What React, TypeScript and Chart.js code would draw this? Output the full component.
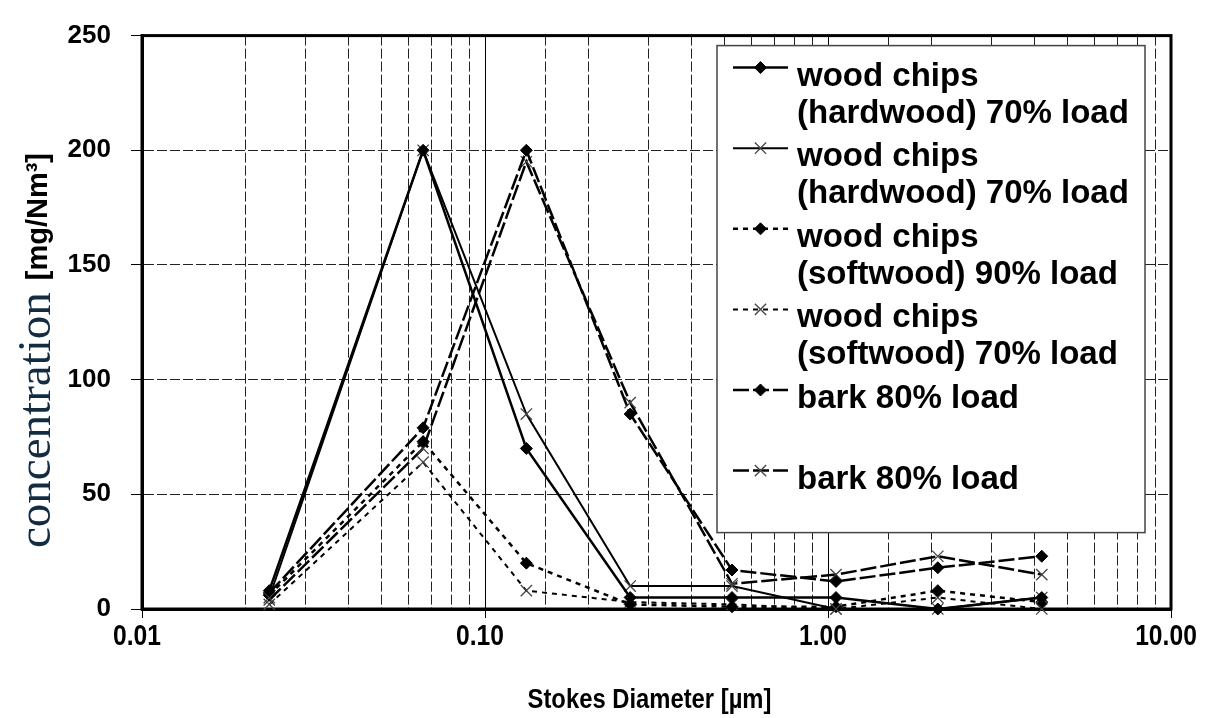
import React, { useEffect, useRef } from "react";
import { Chart, registerables } from "chart.js";
import { drawPoint } from "chart.js/helpers";

Chart.register(...registerables);

// Stokes diameters of the impactor stages (µm)
const diameters = [0.0235, 0.066, 0.132, 0.265, 0.525, 1.055, 2.09, 4.2];

// Mass concentration per stage (mg/Nm³)
const hardwood70A = [8, 200, 70, 5, 5, 5, 0, 5];
const hardwood70B = [5, 200, 85, 10, 10, 0, 0, 5];
const softwood90 = [6, 73, 20, 2, 1, 1, 8, 3];
const softwood70 = [2, 64, 8, 3, 2, 0, 5, 0];
const bark80A = [7, 79, 200, 85, 17, 12, 18, 23];
const bark80B = [4, 70, 195, 90, 11, 15, 23, 15];

const seriesNames = [
  ["wood chips", "(hardwood) 70% load"],
  ["wood chips", "(hardwood) 70% load"],
  ["wood chips", "(softwood) 90% load"],
  ["wood chips", "(softwood) 70% load"],
  ["bark 80% load"],
  ["bark 80% load"],
];

const xTickValues = [0.01, 0.1, 1, 10];
const xTickLabels = ["0.01", "0.10", "1.00", "10.00"];
const yTickValues = [0, 50, 100, 150, 200, 250];

const xTitle = "Stokes Diameter [µm]";
const yTitleMain = "concentration";
const yTitleUnit = "[mg/Nm³]";

const SANS = '"Liberation Sans", Arial, sans-serif';
const SERIF = '"Liberation Serif", "Times New Roman", serif';

const SHORT_DASH = [5, 5];
const LONG_DASH = [16, 4];

const seriesStyles = [
  { dash: [], width: 2.5, marker: "rectRot" },
  { dash: [], width: 2, marker: "crossRot" },
  { dash: SHORT_DASH, width: 2.5, marker: "rectRot" },
  { dash: SHORT_DASH, width: 2, marker: "crossRot" },
  { dash: LONG_DASH, width: 2.5, marker: "rectRot" },
  { dash: LONG_DASH, width: 2.5, marker: "crossRot" },
];

const seriesValues = [hardwood70A, hardwood70B, softwood90, softwood70, bark80A, bark80B];

const isDecade = (v: number) => Math.abs(Math.log10(v) - Math.round(Math.log10(v))) < 1e-6;

const markerRadius = (marker: string) => (marker === "rectRot" ? 6 : 8);

// Condensed text: normal glyphs squeezed horizontally
function condensedText(ctx: CanvasRenderingContext2D, text: string, x: number, y: number, squeeze: number) {
  ctx.save();
  ctx.translate(x, y);
  ctx.scale(squeeze, 1);
  ctx.fillText(text, 0, 0);
  ctx.restore();
}

// Heavy frame around the plotting area
const plotFrame = {
  id: "plotFrame",
  beforeDatasetsDraw(chart: any) {
    const { ctx, chartArea: a } = chart;
    ctx.save();
    ctx.strokeStyle = "#000";
    ctx.lineWidth = 3;
    ctx.strokeRect(a.left, a.top, a.right - a.left, a.bottom - a.top);
    ctx.restore();
  },
};

// Horizontal axis: decade labels and title in a condensed bold face
const xAxisText = {
  id: "xAxisText",
  afterDraw(chart: any) {
    const { ctx, chartArea: a, scales } = chart;
    ctx.save();
    ctx.fillStyle = "#000";
    ctx.textAlign = "center";
    ctx.textBaseline = "alphabetic";
    ctx.font = `bold 29px ${SANS}`;
    xTickValues.forEach((v, i) => {
      condensedText(ctx, xTickLabels[i], scales.x.getPixelForValue(v) - 5, a.bottom + 36, 0.85);
    });
    ctx.font = `bold 28px ${SANS}`;
    condensedText(ctx, xTitle, (a.left + a.right) / 2 - 7, a.bottom + 99, 0.85);
    ctx.restore();
  },
};

// Vertical axis title: serif word followed by bold unit
const yAxisTitle = {
  id: "yAxisTitle",
  afterDraw(chart: any) {
    const { ctx, chartArea: a } = chart;
    ctx.save();
    ctx.translate(50, a.bottom - 61);
    ctx.rotate(-Math.PI / 2);
    ctx.textAlign = "left";
    ctx.textBaseline = "alphabetic";
    ctx.fillStyle = "#132c42";
    ctx.font = `47px ${SERIF}`;
    ctx.fillText(yTitleMain, 0, 0);
    const w = ctx.measureText(yTitleMain).width;
    ctx.fillStyle = "#000";
    ctx.font = `bold 29px ${SANS}`;
    ctx.fillText(yTitleUnit, w + 12, -3);
    ctx.restore();
  },
};

// Boxed legend in the upper right of the plotting area
const boxLegend = {
  id: "boxLegend",
  afterDraw(chart: any) {
    const { ctx, chartArea: a } = chart;
    const bx = a.left + 575;
    const by = a.top + 10;
    const bw = 428;
    const bh = 487;
    ctx.save();
    ctx.fillStyle = "#fff";
    ctx.fillRect(bx, by, bw, bh);
    ctx.strokeStyle = "#444";
    ctx.lineWidth = 1.5;
    ctx.strokeRect(bx, by, bw, bh);

    chart.data.datasets.forEach((ds: any, i: number) => {
      const lineY = by + 31 + i * 80.6;
      const symY = lineY - 9;
      const x0 = bx + 16;
      const x1 = bx + 71;
      ctx.save();
      ctx.strokeStyle = ds.borderColor;
      ctx.lineWidth = ds.borderWidth;
      ctx.setLineDash(ds.borderDash || []);
      ctx.beginPath();
      ctx.moveTo(x0, symY);
      ctx.lineTo(x1, symY);
      ctx.stroke();
      ctx.setLineDash([]);
      ctx.fillStyle = ds.pointBackgroundColor;
      ctx.strokeStyle = ds.pointBorderColor;
      ctx.lineWidth = ds.pointBorderWidth;
      drawPoint(
        ctx,
        { pointStyle: ds.pointStyle, rotation: 0, radius: ds.pointRadius, borderWidth: ds.pointBorderWidth },
        (x0 + x1) / 2,
        symY
      );
      ctx.restore();

      ctx.fillStyle = "#000";
      ctx.font = `bold 33px ${SANS}`;
      ctx.textAlign = "left";
      ctx.textBaseline = "middle";
      seriesNames[i].forEach((line, j) => {
        ctx.fillText(line, bx + 80, lineY + j * 37);
      });
    });
    ctx.restore();
  },
};

export default function App() {
  const canvasRef = useRef<HTMLCanvasElement | null>(null);

  useEffect(() => {
    if (!canvasRef.current) return;

    const datasets = seriesValues.map((vals, i) => {
      const st = seriesStyles[i];
      const diamond = st.marker === "rectRot";
      return {
        label: seriesNames[i].join(" "),
        data: diameters.map((d, k) => ({ x: d, y: vals[k] })),
        borderColor: "#000",
        borderWidth: st.width,
        borderDash: st.dash,
        tension: 0,
        fill: false,
        pointStyle: st.marker,
        pointRadius: markerRadius(st.marker),
        pointBackgroundColor: diamond ? "#000" : "rgba(0,0,0,0)",
        pointBorderColor: diamond ? "#000" : "#444",
        pointBorderWidth: diamond ? 1 : 1.3,
        clip: false as const,
      };
    });

    const chart = new Chart(canvasRef.current, {
      type: "line",
      data: { datasets },
      plugins: [plotFrame, xAxisText, yAxisTitle, boxLegend],
      options: {
        animation: false,
        responsive: true,
        maintainAspectRatio: false,
        layout: { padding: { top: 19, right: 41, left: 0, bottom: 0 } },
        plugins: {
          legend: { display: false },
          tooltip: { enabled: false },
        },
        scales: {
          x: {
            type: "logarithmic",
            min: xTickValues[0],
            max: xTickValues[xTickValues.length - 1],
            afterFit: (s: any) => {
              s.height = 109;
            },
            ticks: { display: false, autoSkip: false },
            grid: {
              color: (c: any) => (c.tick && isDecade(c.tick.value) ? "#000" : "#222"),
              lineWidth: 1,
              tickLength: 9,
              tickColor: (c: any) => (c.tick && isDecade(c.tick.value) ? "#000" : "rgba(0,0,0,0)"),
              tickWidth: 1,
            },
            border: {
              display: true,
              color: "#000",
              width: 3,
              dash: (c: any) => (c.tick && !isDecade(c.tick.value) ? [10, 3] : []),
            },
            title: { display: false },
          },
          y: {
            type: "linear",
            min: yTickValues[0],
            max: yTickValues[yTickValues.length - 1],
            afterFit: (s: any) => {
              s.width = 142;
            },
            afterBuildTicks: (s: any) => {
              s.ticks = yTickValues.map((v) => ({ value: v }));
            },
            ticks: {
              padding: 20,
              color: "#000",
              font: { family: SANS, size: 26, weight: "bold" },
              callback: (value: any) => String(value),
            },
            grid: {
              color: "#222",
              lineWidth: 1,
              tickLength: 11,
              tickColor: "#000",
            },
            border: {
              display: true,
              color: "#000",
              width: 3,
              dash: (c: any) => (c.tick ? [10, 3] : []),
            },
            title: { display: false },
          },
        },
      },
    } as any);

    return () => chart.destroy();
  }, []);

  return (
    <div style={{ position: "fixed", left: 0, top: 0, width: 1212, height: 718, background: "#fff" }}>
      <canvas ref={canvasRef} />
    </div>
  );
}
